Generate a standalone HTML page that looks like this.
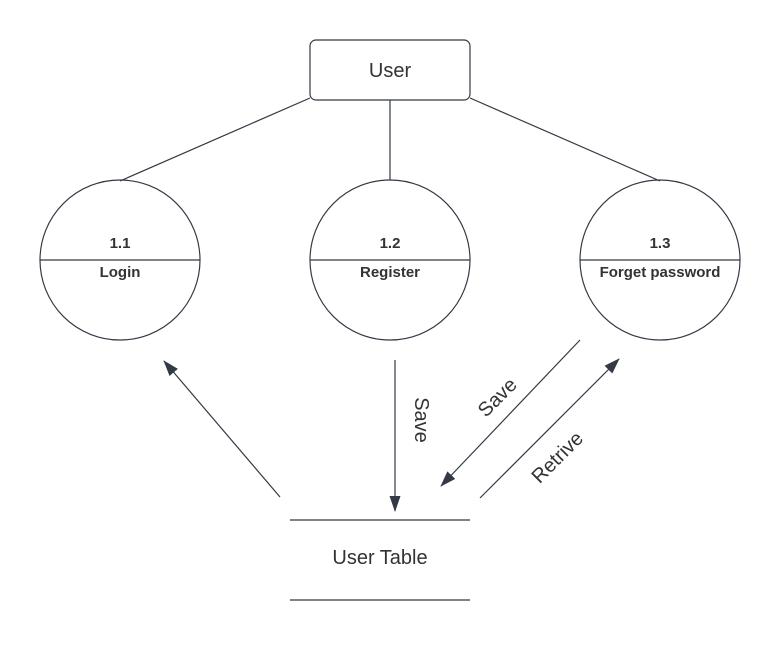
<!DOCTYPE html>
<html><head><style>body{margin:0;background:#fff}</style></head><body>
<svg width="781" height="640" viewBox="0 0 781 640" xmlns="http://www.w3.org/2000/svg" font-family="Liberation Sans, sans-serif">
<defs><marker id="a" markerWidth="16" markerHeight="12" refX="15" refY="6" orient="auto" markerUnits="userSpaceOnUse" viewBox="0 0 16 12"><path d="M0,0.5 L16,6 L0,11.5 z" fill="#333a45"/></marker></defs>
<g stroke="#333a45" stroke-width="1.2" fill="none">
<rect x="310" y="40" width="160" height="60" rx="6" fill="#fff"/>
<line x1="310" y1="98" x2="120" y2="181"/>
<line x1="390" y1="100" x2="390" y2="180"/>
<line x1="470" y1="98" x2="660" y2="181"/>
<circle cx="120" cy="260" r="80"/>
<circle cx="390" cy="260" r="80"/>
<circle cx="660" cy="260" r="80"/>
<line x1="40" y1="260" x2="200" y2="260"/>
<line x1="310" y1="260" x2="470" y2="260"/>
<line x1="580" y1="260" x2="740" y2="260"/>
<line x1="280" y1="497" x2="164" y2="361" marker-end="url(#a)"/>
<line x1="395" y1="360" x2="395" y2="511" marker-end="url(#a)"/>
<line x1="580" y1="340" x2="441" y2="486" marker-end="url(#a)"/>
<line x1="480" y1="498" x2="619" y2="359" marker-end="url(#a)"/>
<line x1="290" y1="520" x2="470" y2="520"/>
<line x1="290" y1="600" x2="470" y2="600"/>
</g>
<g fill="#333" text-anchor="middle">
<text x="390" y="77" font-size="20">User</text>
<text x="120" y="248" font-size="15" font-weight="bold">1.1</text>
<text x="120" y="277" font-size="15" font-weight="bold">Login</text>
<text x="390" y="248" font-size="15" font-weight="bold">1.2</text>
<text x="390" y="277" font-size="15" font-weight="bold">Register</text>
<text x="660" y="248" font-size="15" font-weight="bold">1.3</text>
<text x="660" y="277" font-size="15" font-weight="bold">Forget password</text>
<text x="0" y="0" font-size="20" transform="translate(415,420) rotate(90)">Save</text>
<text x="0" y="0" font-size="20" transform="translate(502,402) rotate(-45)">Save</text>
<text x="0" y="0" font-size="20" transform="translate(562,462) rotate(-45)">Retrive</text>
<text x="380" y="564" font-size="20">User Table</text>
</g>
</svg>
</body></html>
